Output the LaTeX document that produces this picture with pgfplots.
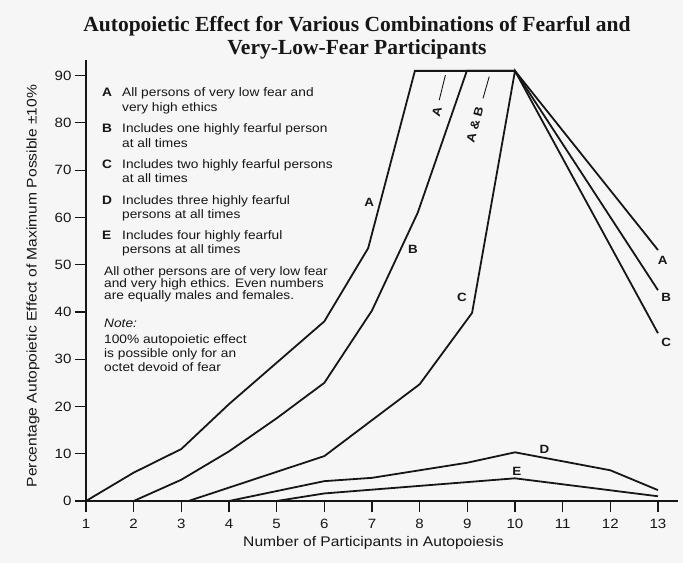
\documentclass[border=0pt]{standalone}
\usepackage{pgfplots}
\pgfplotsset{compat=1.18}
\usepackage{fontspec}
\setmainfont{Liberation Sans}[FakeStretch=1.12]
\newfontfamily\titlefont{Liberation Serif}
\definecolor{bg}{RGB}{246,246,246}
\definecolor{ink}{RGB}{22,22,22}
\newcommand\leg{\fontsize{12.3}{14}\selectfont}
\newcommand\lab{\fontsize{12}{14}\selectfont\bfseries}
\begin{document}
\begin{tikzpicture}
\path[use as bounding box, fill=bg] (-86bp,-62bp) rectangle (597bp,501bp);
\begin{axis}[
  scale only axis, width=592bp, height=441bp,
  xmin=1, xmax=13.42, ymin=0, ymax=93.3,
  axis x line=bottom, axis y line=left,
  axis line style={-, line width=1.3bp, draw=ink},
  xtick={1,...,13}, ytick={0,10,...,90},
  tick align=outside, major tick length=11bp,
  every tick/.style={line width=1.2bp, draw=ink},
  ticklabel style={font=\fontsize{13.5}{16}\selectfont, text=ink},
  xticklabel style={yshift=-4bp},
  /pgf/number format/assume math mode=true,
  clip=false,
  xlabel={Number of Participants in Autopoiesis},
  ylabel={Percentage Autopoietic Effect of Maximum Possible ±10\%},
  xlabel style={at={(axis description cs:0.4856,-0.0952)}, anchor=center, font=\fontsize{14}{16}\selectfont, text=ink},
  ylabel style={at={(axis description cs:-0.0895,0.4875)}, anchor=center, font=\fontsize{14}{16}\selectfont, text=ink},
  cycle list={{ink, no markers, line width=1.8bp}},
]
% A
\addplot[ink, no markers, line width=1.8bp, line join=miter] coordinates {(1,0) (2,6) (3,11) (4,20.5) (6,38) (6.92,53.5) (7.9,91) (10,91) (13,53.1)};
% B
\addplot[ink, no markers, line width=1.8bp] coordinates {(2,0) (3,4.5) (4,10.5) (5,17.5) (6,25) (7,40.3) (7.96,61) (8.99,91) (10,91) (13,44.6)};
% C
\addplot[ink, no markers, line width=1.8bp] coordinates {(3.15,0) (6,9.5) (8,24.7) (9.1,39.8) (10,91) (13,35.5)};
% D
\addplot[ink, no markers, line width=1.8bp] coordinates {(4,0) (6,4.2) (7,4.9) (9,8.1) (10,10.3) (12,6.5) (13,2.3)};
% E
\addplot[ink, no markers, line width=1.8bp] coordinates {(5,0) (6,1.6) (10,4.8) (13,1.0)};
% leader lines
\addplot[ink, no markers, line width=0.9bp] coordinates {(8.54,90.1) (8.41,84.8)};
\addplot[ink, no markers, line width=0.9bp] coordinates {(9.46,89.8) (9.33,85.2)};
% curve labels
\node[font=\lab, text=ink] at (axis cs:6.94,63.1) {A};
\node[font=\lab, text=ink] at (axis cs:7.86,53.3) {B};
\node[font=\lab, text=ink] at (axis cs:8.89,43.0) {C};
\node[font=\lab, text=ink] at (axis cs:13.1,51) {A};
\node[font=\lab, text=ink] at (axis cs:13.17,43) {B};
\node[font=\lab, text=ink] at (axis cs:13.17,33.6) {C};
\node[font=\lab, text=ink] at (axis cs:10.62,10.9) {D};
\node[font=\lab, text=ink] at (axis cs:10.04,6.3) {E};
\node[font=\lab, text=ink, rotate=75] at (axis cs:8.36,82.3) {A};
\node[font=\lab, text=ink, rotate=75] at (axis cs:9.16,79.6) {A \& B};
\end{axis}
% title
\node[anchor=base, font=\titlefont\bfseries\fontsize{21.6}{23}\selectfont, text=ink] at (271bp,469bp) {Autopoietic Effect for Various Combinations of Fearful and};
\node[anchor=base, font=\titlefont\bfseries\fontsize{21.6}{23}\selectfont, text=ink] at (271bp,446.5bp) {Very-Low-Fear Participants};
% explanatory text
\begin{scope}[x=1bp, y=-1bp, shift={(-86bp,501bp)}, every node/.style={anchor=base west, inner sep=0pt, font=\leg, text=ink}]
\node at (102,96.7) {\textbf{A}}; \node at (122,96.7) {All persons of very low fear and};
\node at (122,112) {very high ethics};
\node at (102,132.7) {\textbf{B}}; \node at (122,132.7) {Includes one highly fearful person};
\node at (122,147.7) {at all times};
\node at (102,168.7) {\textbf{C}}; \node at (122,168.7) {Includes two highly fearful persons};
\node at (122,182.7) {at all times};
\node at (102,204.4) {\textbf{D}}; \node at (122,204.4) {Includes three highly fearful};
\node at (122,218.4) {persons at all times};
\node at (102,239.4) {\textbf{E}}; \node at (122,239.4) {Includes four highly fearful};
\node at (122,253.7) {persons at all times};
\node at (104,275.4) {All other persons are of very low fear};
\node at (104,287.4) {and very high ethics. Even numbers};
\node at (104,299.4) {are equally males and females.};
\node at (104,327.1) {\itshape Note:};
\node at (104,343.7) {100\% autopoietic effect};
\node at (104,357.1) {is possible only for an};
\node at (104,371.1) {octet devoid of fear};
\end{scope}
\end{tikzpicture}
\end{document}
